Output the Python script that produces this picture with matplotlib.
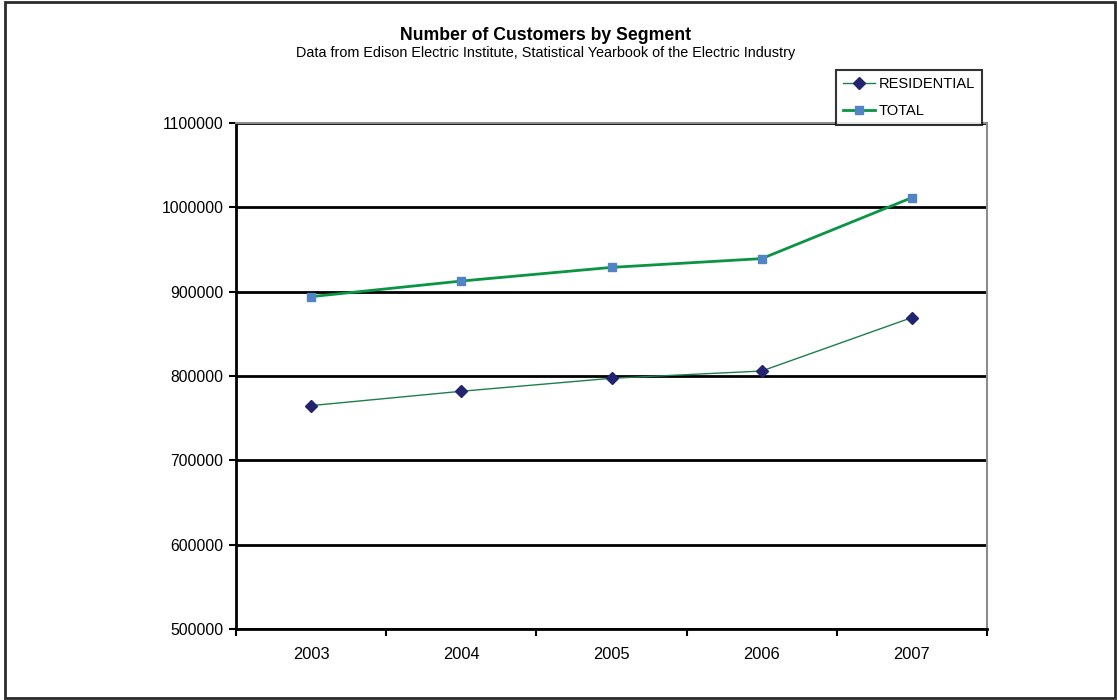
import matplotlib.pyplot as plt
from matplotlib.patches import Rectangle
import numpy as np

plt.rcParams['font.family'] = ['Liberation Sans', 'DejaVu Sans']

years = ['2003', '2004', '2005', '2006', '2007']
residential = [764900, 781900, 797300, 805900, 869300]
total = [894100, 912600, 928800, 939200, 1011500]
y_ticks = [500000, 600000, 700000, 800000, 900000, 1000000, 1100000]

fig = plt.figure(figsize=(11.17, 7.0), dpi=100)
ax = fig.add_axes([236 / 1117, 1 - 629 / 700, 751 / 1117, 506 / 700])

x = np.arange(len(years))
ax.plot(x, residential, color='#1e7f4a', lw=1.0, marker='D', ms=6,
        mfc='#232370', mec='#232370', label='RESIDENTIAL', zorder=3)
ax.plot(x, total, color='#0a9444', lw=2.0, marker='s', ms=6,
        mfc='#5283c4', mec='#5283c4', label='TOTAL', zorder=3)

ax.set_xlim(-0.5, len(years) - 0.5)
ax.set_ylim(500000, 1100000)
ax.set_yticks(y_ticks)
ax.set_yticklabels([str(v) for v in y_ticks], fontsize=11.3)
ax.yaxis.grid(True, color='black', lw=2.0)
ax.set_axisbelow(True)

ax.set_xticks(x)
ax.set_xticklabels(years, fontsize=11.8)
ax.set_xticks(np.arange(len(years) + 1) - 0.5, minor=True)
ax.tick_params(axis='x', which='major', length=0, pad=13)
ax.tick_params(axis='x', which='minor', length=5, width=1.5, direction='out')
ax.tick_params(axis='y', length=5, width=1.5, direction='out', pad=4)

ax.spines['left'].set_linewidth(2.0)
ax.spines['bottom'].set_linewidth(2.0)
ax.spines['right'].set_color('#8c8c8c')
ax.spines['right'].set_linewidth(1.5)
ax.spines['top'].set_color('#8c8c8c')
ax.spines['top'].set_linewidth(1.5)

fig.text(546 / 1117, 1 - 36 / 700, 'Number of Customers by Segment',
         ha='center', va='center', fontsize=12.7, fontweight='bold')
fig.text(546 / 1117, 1 - 53 / 700,
         'Data from Edison Electric Institute, Statistical Yearbook of the Electric Industry',
         ha='center', va='center', fontsize=10.4)

leg = fig.legend(loc='upper left', bbox_to_anchor=(836 / 1117, 1 - 70 / 700),
                 fontsize=10.5, frameon=True, fancybox=False, handlelength=2.2,
                 borderpad=0.5, labelspacing=0.85, handletextpad=0.2,
                 borderaxespad=0)
leg.get_frame().set_edgecolor('black')
leg.get_frame().set_linewidth(1.5)

fig.patches.append(Rectangle((5 / 1117, 2 / 700), 1110 / 1117, 696 / 700,
                             transform=fig.transFigure, fill=False,
                             edgecolor='#2b2b2b', lw=2.0))

fig.savefig('out.png', dpi=100)
